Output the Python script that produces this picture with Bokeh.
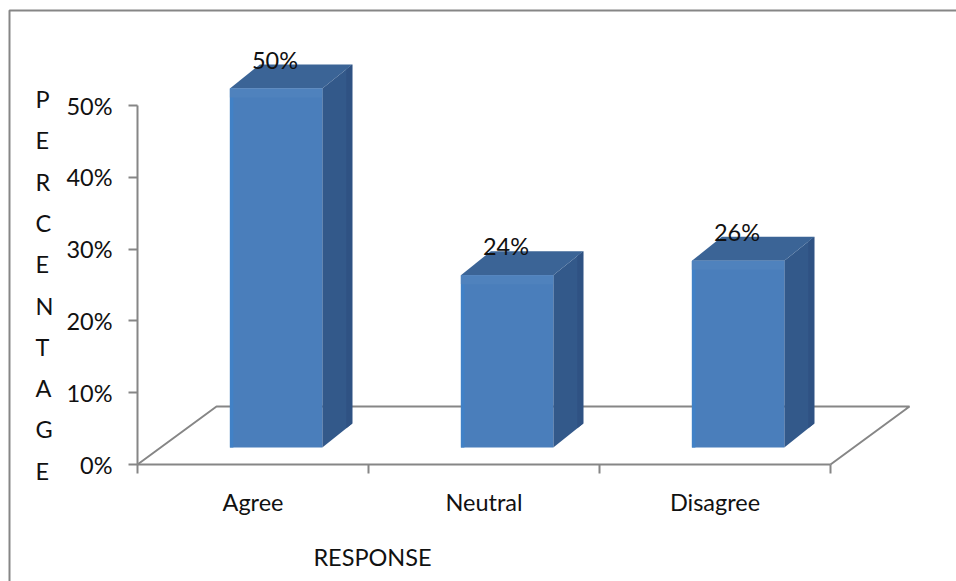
from bokeh.core.properties import value
from bokeh.embed import file_html
from bokeh.models import FixedTicker, Range1d
from bokeh.plotting import figure
from bokeh.resources import INLINE

# Survey results
categories = ["Agree", "Neutral", "Disagree"]
percentages = [50, 24, 26]
y_ticks = [0, 10, 20, 30, 40, 50]
y_title = "PERCENTAGE"
x_title = "RESPONSE"

WIDTH, HEIGHT = 956, 581
ORIGIN_X, ORIGIN_Y = 137, 464      # where the axes meet, in page pixels
PX_PER_CATEGORY = 231
PX_PER_PERCENT = 7.18

FONT = "Lato"
TEXT_SIZE = "23.5px"
TEXT_COLOR = "#111111"
GREY = "#868686"

# Extruded-box geometry, in data units
BAR_LEFT, BAR_WIDTH = 0.40, 0.40
BAR_BASE = 17 / PX_PER_PERCENT
DEPTH_X, DEPTH_Y = 30 / PX_PER_CATEGORY, 24 / PX_PER_PERCENT
FLOOR_X, FLOOR_Y = 79 / PX_PER_CATEGORY, 58 / PX_PER_PERCENT

p = figure(
    width=WIDTH, height=HEIGHT, output_backend="svg", toolbar_location=None,
    min_border=0, outline_line_color=None,
    x_range=Range1d(-ORIGIN_X / PX_PER_CATEGORY, (WIDTH - ORIGIN_X) / PX_PER_CATEGORY),
    y_range=Range1d(-(HEIGHT - ORIGIN_Y) / PX_PER_PERCENT, ORIGIN_Y / PX_PER_PERCENT),
)
p.grid.visible = False


def px_x(px):
    return (px - ORIGIN_X) / PX_PER_CATEGORY


def px_y(px):
    return (ORIGIN_Y - px) / PX_PER_PERCENT


n = len(categories)

# Chart border: left and top edges, the rest runs off the page
p.line([px_x(9), px_x(9), px_x(960)], [px_y(582), px_y(10), px_y(10)],
       line_color=GREY, line_width=2)

# Floor outline
p.line([0, FLOOR_X, n + FLOOR_X, n], [0, FLOOR_Y, FLOOR_Y, 0], line_color=GREY, line_width=2)

# Axes: category names sit on major ticks, tick marks on minor ones
yaxis = p.yaxis[0]
yaxis.fixed_location = 0
yaxis.bounds = (0, 50)
yaxis.ticker = FixedTicker(ticks=y_ticks)
yaxis.major_label_overrides = {t: f"{t}%" for t in y_ticks}
yaxis.major_tick_out, yaxis.major_tick_in = 9, 0
yaxis.minor_tick_line_color = None
yaxis.major_label_standoff = 16
yaxis.major_label_text_font = FONT
yaxis.major_label_text_font_size = TEXT_SIZE
yaxis.major_label_text_color = TEXT_COLOR
yaxis.axis_line_color = yaxis.major_tick_line_color = GREY
yaxis.axis_line_width = yaxis.major_tick_line_width = 2

xaxis = p.xaxis[0]
xaxis.fixed_location = 0
xaxis.bounds = (0, n)
xaxis.ticker = FixedTicker(ticks=[i + 0.5 for i in range(n)], minor_ticks=list(range(n + 1)))
xaxis.major_label_overrides = {i + 0.5: c for i, c in enumerate(categories)}
xaxis.major_tick_line_color = None
xaxis.minor_tick_out, xaxis.minor_tick_in = 9, 0
xaxis.major_label_standoff = 14
xaxis.major_label_text_font = FONT
xaxis.major_label_text_font_size = TEXT_SIZE
xaxis.major_label_text_color = TEXT_COLOR
xaxis.axis_line_color = xaxis.minor_tick_line_color = GREY
xaxis.axis_line_width = xaxis.minor_tick_line_width = 2

# Boxes: side, top, then the front face with a brighter left edge and top bevel
BEVEL = 9 / PX_PER_PERCENT
SIDE_EDGE = 6 / PX_PER_CATEGORY
for i, v in enumerate(percentages):
    left, right = i + BAR_LEFT, i + BAR_LEFT + BAR_WIDTH
    back = right + DEPTH_X
    top = BAR_BASE + v
    p.patch([right, back, back, right],
            [BAR_BASE, BAR_BASE + DEPTH_Y, top + DEPTH_Y, top],
            fill_color="#33598a", line_color=None)
    p.patch([back - SIDE_EDGE, back, back, back - SIDE_EDGE],
            [BAR_BASE + DEPTH_Y * 0.8, BAR_BASE + DEPTH_Y, top + DEPTH_Y, top + DEPTH_Y * 0.8],
            fill_color="#2f5283", line_color=None)
    p.patch([left, left + DEPTH_X, right + DEPTH_X, right],
            [top, top + DEPTH_Y, top + DEPTH_Y, top],
            fill_color="#3b6496", line_color=None)
    p.quad(left=left, right=right, bottom=BAR_BASE, top=top, fill_color="#4a7ebb", line_color=None)
    p.quad(left=left, right=left + 0.015, bottom=BAR_BASE, top=top, fill_color="#4181c6", line_color=None)
    p.quad(left=left, right=right, bottom=top - BEVEL, top=top, fill_color="#4f82bd", line_color=None)

# Percentage labels over each box
p.text(
    x=[i + BAR_LEFT + BAR_WIDTH / 2 - 0.005 for i in range(n)],
    y=[BAR_BASE + v + DEPTH_Y for v in percentages],
    text=[f"{v}%" for v in percentages],
    text_font=value(FONT), text_font_size=TEXT_SIZE, text_color=TEXT_COLOR,
    text_align="center", text_baseline="alphabetic", y_offset=-5,
)

# Axis titles; the vertical one is stacked letter by letter
p.text(
    x=[px_x(372)], y=[px_y(556)], text=[x_title],
    text_font=value(FONT), text_font_size=TEXT_SIZE, text_color=TEXT_COLOR,
    text_align="center", text_baseline="middle",
)
p.text(
    x=[px_x(35)] * len(y_title),
    y=[px_y(98.5 + k * 41.3) for k in range(len(y_title))],
    text=list(y_title),
    text_font=value(FONT), text_font_size=TEXT_SIZE, text_color=TEXT_COLOR,
    text_align="left", text_baseline="middle",
)

open("out.html", "w").write(file_html(p, INLINE))
